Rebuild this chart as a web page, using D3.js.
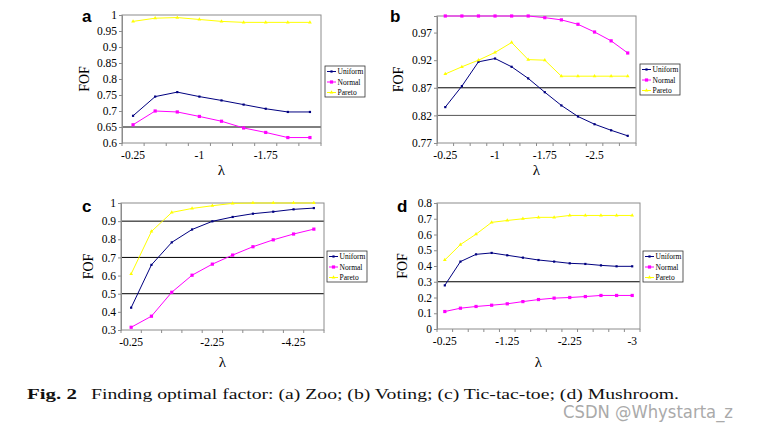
<!DOCTYPE html>
<html><head><meta charset="utf-8">
<script src="https://cdn.jsdelivr.net/npm/d3@7"></script>
<style>
body{margin:0;background:#fff}svg{display:block}
svg text.serif{font-family:"Liberation Serif","Times New Roman",Times,serif !important;}
svg text.sans{font-family:"Liberation Sans",Arial,Helvetica,sans-serif !important;}
svg text.wm{font-family:"DejaVu Sans","Noto Sans",sans-serif !important;}
</style>
</head><body>
<svg id="chart" width="759" height="435"></svg>
<script>
// ---- data ----
const seriesNames = ["Uniform", "Normal", "Pareto"];
const seriesColors = ["#000080", "#ff00ff", "#ffff00"];

const catsA = ["-0.25","-0.5","-0.75","-1","-1.25","-1.5","-1.75","-2","-2.25"];
const uniformA = [0.685,0.745,0.759,0.745,0.733,0.720,0.707,0.697,0.697];
const normalA  = [0.657,0.700,0.697,0.683,0.668,0.647,0.633,0.617,0.617];
const paretoA  = [0.980,0.990,0.992,0.986,0.980,0.977,0.977,0.977,0.977];
const yTicksA = [0.6,0.65,0.7,0.75,0.8,0.85,0.9,0.95,1];

const catsB = ["-0.25","-0.5","-0.75","-1","-1.25","-1.5","-1.75","-2","-2.25","-2.5","-2.75","-3"];
const uniformB = [0.835,0.873,0.917,0.923,0.908,0.887,0.862,0.838,0.818,0.804,0.793,0.783];
const normalB  = [1.0,1.0,1.0,1.0,1.0,1.0,0.997,0.993,0.985,0.971,0.955,0.933];
const paretoB  = [0.895,0.908,0.920,0.934,0.952,0.921,0.920,0.891,0.891,0.891,0.891,0.891];
const yTicksB = [0.77,0.82,0.87,0.92,0.97];

const catsC = ["-0.25","-0.75","-1.25","-1.75","-2.25","-2.75","-3.25","-3.75","-4.25","-4.75"];
const uniformC = [0.423,0.659,0.783,0.854,0.899,0.923,0.941,0.952,0.965,0.972];
const normalC  = [0.315,0.376,0.508,0.602,0.663,0.713,0.759,0.797,0.829,0.856];
const paretoC  = [0.609,0.843,0.948,0.970,0.985,0.998,1.0,1.0,1.0,1.0];
const yTicksC = [0.3,0.4,0.5,0.6,0.7,0.8,0.9,1];

const catsD = ["-0.25","-0.5","-0.75","-1","-1.25","-1.5","-1.75","-2","-2.25","-2.5","-2.75","-2.9","-3"];
const uniformD = [0.277,0.428,0.474,0.483,0.468,0.453,0.438,0.428,0.417,0.413,0.404,0.398,0.398];
const normalD  = [0.111,0.132,0.143,0.151,0.160,0.174,0.187,0.196,0.200,0.206,0.213,0.213,0.213];
const paretoD  = [0.438,0.536,0.602,0.677,0.689,0.700,0.709,0.709,0.721,0.721,0.721,0.721,0.721];
const yTicksD = [0,0.1,0.2,0.3,0.4,0.5,0.6,0.7,0.8];

const panels = [
  {tag:"a", cats:catsA, series:[uniformA,normalA,paretoA], yDomain:[0.6,1], yTicks:yTicksA, labelEvery:3, grid:[{v:0.65,c:"#000"}],
   box:{L:122,T:15,R:321,B:143}, tagPos:[82,22], fofX:84, lamY:175, leg:{x:325,y:66}},
  {tag:"b", cats:catsB, series:[uniformB,normalB,paretoB], yDomain:[0.77,1.0], yTicks:yTicksB, labelEvery:3, grid:[{v:0.87,c:"#000"},{v:0.82,c:"#555"}],
   box:{L:437,T:16,R:636,B:143}, tagPos:[390,22], fofX:398, lamY:175, leg:{x:640,y:64}},
  {tag:"c", cats:catsC, series:[uniformC,normalC,paretoC], yDomain:[0.3,1], yTicks:yTicksC, labelEvery:4, grid:[{v:0.9,c:"#000"},{v:0.7,c:"#000"},{v:0.5,c:"#000"}],
   box:{L:121,T:203,R:324,B:330}, tagPos:[82,212], fofX:88, lamY:367, leg:{x:327,y:251}},
  {tag:"d", cats:catsD, series:[uniformD,normalD,paretoD], yDomain:[0,0.8], yTicks:yTicksD, labelEvery:4, grid:[{v:0.3,c:"#000"}],
   box:{L:437,T:203,R:640,B:329}, tagPos:[397,212], fofX:402, lamY:367, leg:{x:643,y:251}}
];

const svg = d3.select("#chart");

function marker(g, type, x, y, color) {
  if (type === 0) {
    g.append("rect").attr("x", x-1.1).attr("y", y-1.1).attr("width", 2.2).attr("height", 2.2).attr("fill", color);
  } else if (type === 1) {
    g.append("rect").attr("x", x-1.6).attr("y", y-1.6).attr("width", 3.2).attr("height", 3.2).attr("fill", color);
  } else {
    g.append("path").attr("d", d3.symbol(d3.symbolTriangle, 6)()).attr("transform", `translate(${x},${y})`).attr("fill", color);
  }
}

panels.forEach(p => {
  const b = p.box;
  const g = svg.append("g");
  const x = d3.scaleBand().domain(p.cats).range([b.L, b.R]);
  const y = d3.scaleLinear().domain(p.yDomain).range([b.B, b.T]);

  p.grid.forEach(gl => {
    g.append("line").attr("x1", b.L).attr("x2", b.R).attr("y1", y(gl.v)).attr("y2", y(gl.v))
      .attr("stroke", gl.c).attr("stroke-width", 1);
  });
  g.append("rect").attr("x", b.L).attr("y", b.T).attr("width", b.R-b.L).attr("height", b.B-b.T)
    .attr("fill", "none").attr("stroke", "#8c8c8c").attr("stroke-width", 1);

  const yAxis = d3.axisLeft(y).tickValues(p.yTicks).tickSize(3).tickPadding(2)
    .tickFormat(d => String(+d.toFixed(2)));
  const ya = g.append("g").attr("transform", `translate(${b.L},0)`).call(yAxis).attr("font-size", 11.5);
  ya.select(".domain").attr("stroke", "#8c8c8c");
  ya.selectAll(".tick line").attr("stroke", "#8c8c8c");
  ya.selectAll("text").attr("class", "serif").attr("fill", "#000");

  const bounds = p.cats.map(c => x(c)).concat([b.R]);
  bounds.forEach(bx => {
    g.append("line").attr("x1", bx).attr("x2", bx).attr("y1", b.B).attr("y2", b.B+3).attr("stroke", "#8c8c8c");
  });
  p.cats.forEach((c, i) => {
    if (i % p.labelEvery === 0) {
      g.append("text").attr("class", "serif").attr("x", x(c) + x.bandwidth()/2).attr("y", b.B + 16).attr("text-anchor", "middle")
        .attr("font-size", 11.5).text(c);
    }
  });

  g.append("text").attr("class", "serif").attr("transform", `translate(${p.fofX},${(b.T+b.B)/2}) rotate(-90)`).attr("text-anchor", "middle")
    .attr("dominant-baseline", "central").attr("font-size", 14).text("FOF");
  g.append("text").attr("class", "serif").attr("x", (b.L+b.R)/2).attr("y", p.lamY).attr("text-anchor", "middle")
    .attr("font-size", 15).text("λ");

  g.append("text").attr("class", "sans").attr("x", p.tagPos[0]).attr("y", p.tagPos[1])
    .attr("font-weight", "bold").attr("font-size", 17).text(p.tag);

  const cx = c => x(c) + x.bandwidth()/2;
  p.series.forEach((vals, si) => {
    const line = d3.line().x((d, i) => cx(p.cats[i])).y(d => y(d));
    g.append("path").attr("d", line(vals)).attr("fill", "none").attr("stroke", seriesColors[si]).attr("stroke-width", 1);
    vals.forEach((v, i) => marker(g, si, cx(p.cats[i]), y(v), seriesColors[si]));
  });

  const lg = g.append("g").attr("transform", `translate(${p.leg.x},${p.leg.y})`);
  lg.append("rect").attr("x", 0).attr("y", 0).attr("width", 40).attr("height", 31)
    .attr("fill", "#fff").attr("stroke", "#333").attr("stroke-width", 0.8);
  seriesNames.forEach((n, si) => {
    const ly = 5.5 + si * 10.5;
    lg.append("line").attr("x1", 2).attr("x2", 11).attr("y1", ly).attr("y2", ly).attr("stroke", seriesColors[si]);
    marker(lg, si, 6.5, ly, seriesColors[si]);
    lg.append("text").attr("class", "serif").attr("x", 12.5).attr("y", ly).attr("dominant-baseline", "central")
      .attr("font-size", 7.5).text(n);
  });
});

// caption
svg.append("text").attr("class", "serif").attr("x", 27).attr("y", 399).attr("font-size", 14.5)
  .attr("font-weight", "bold").attr("fill", "#111").attr("textLength", 50).attr("lengthAdjust", "spacingAndGlyphs").text("Fig. 2");
svg.append("text").attr("class", "serif").attr("x", 91).attr("y", 399).attr("font-size", 14.5)
  .attr("fill", "#111").attr("textLength", 588).attr("lengthAdjust", "spacingAndGlyphs")
  .text("Finding optimal factor: (a) Zoo; (b) Voting; (c) Tic-tac-toe; (d) Mushroom.");

svg.append("text").attr("class", "wm").attr("x", 563).attr("y", 418)
  .attr("font-size", 18).attr("fill", "#aaaaaa").attr("textLength", 170).attr("lengthAdjust", "spacingAndGlyphs").text("CSDN @Whystarta_z");
</script>
</body></html>
